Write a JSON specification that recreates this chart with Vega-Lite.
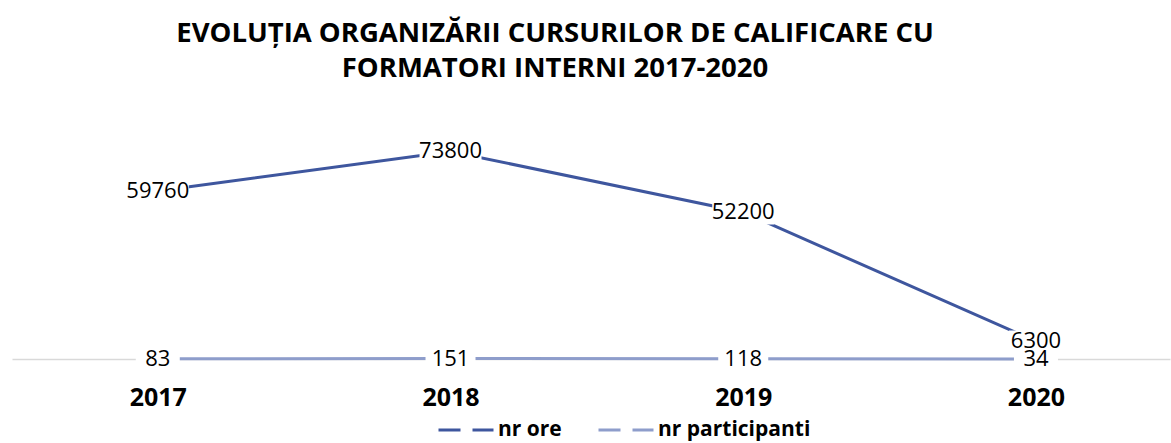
{
  "$schema": "https://vega.github.io/schema/vega-lite/v6.json",
  "autosize": {"type": "none"},
  "padding": {"left": 12, "top": 134, "right": 1, "bottom": 84},
  "width": 1158,
  "height": 225,
  "background": "white",
  "title": {
    "text": ["EVOLUȚIA ORGANIZĂRII CURSURILOR DE CALIFICARE CU", "FORMATORI INTERNI 2017-2020"],
    "font": "Open Sans",
    "fontSize": 27.5,
    "fontWeight": "bold",
    "color": "#000000",
    "anchor": "middle",
    "dx": -36,
    "offset": 52,
    "lineHeight": 35
  },
  "config": {
    "view": {"stroke": null},
    "font": "Open Sans"
  },
  "data": {
    "values": [
      {"year": "2017", "series": "nr ore", "value": 59760},
      {"year": "2018", "series": "nr ore", "value": 73800},
      {"year": "2019", "series": "nr ore", "value": 52200},
      {"year": "2020", "series": "nr ore", "value": 6300},
      {"year": "2017", "series": "nr participanti", "value": 83},
      {"year": "2018", "series": "nr participanti", "value": 151},
      {"year": "2019", "series": "nr participanti", "value": 118},
      {"year": "2020", "series": "nr participanti", "value": 34}
    ]
  },
  "encoding": {
    "x": {
      "field": "year",
      "type": "ordinal",
      "scale": {"type": "point", "padding": 0.478, "align": 0.521},
      "axis": {
        "title": null,
        "ticks": false,
        "domainColor": "#D9D9D9",
        "domainWidth": 1.5,
        "labelFont": "Open Sans",
        "labelFontSize": 25,
        "labelFontWeight": "bold",
        "labelColor": "#000000",
        "labelPadding": 26,
        "labelAngle": 0
      }
    },
    "y": {
      "field": "value",
      "type": "quantitative",
      "scale": {"domain": [0, 80000], "nice": false, "zero": true},
      "axis": null
    }
  },
  "layer": [
    {
      "mark": {"type": "line", "strokeWidth": 3},
      "encoding": {
        "color": {
          "field": "series",
          "type": "nominal",
          "scale": {"domain": ["nr ore", "nr participanti"], "range": ["#3E569E", "#8E9DCB"]},
          "legend": {
            "title": null,
            "orient": "none",
            "direction": "horizontal",
            "legendX": 425,
            "legendY": 267,
            "symbolType": "stroke",
            "symbolSize": 3025,
            "symbolStrokeWidth": 3,
            "symbolDash": [22, 12],
            "labelFont": "Open Sans",
            "labelFontSize": 21,
            "labelFontWeight": "bold",
            "labelColor": "#000000",
            "labelOffset": 3,
            "columnPadding": 30
          }
        }
      }
    },
    {
      "mark": {
        "type": "point",
        "shape": "M-1,-0.4L1,-0.4L1,0.4L-1,0.4Z",
        "filled": true,
        "color": "white",
        "opacity": 1,
        "strokeWidth": 0
      },
      "encoding": {
        "size": {
          "field": "value",
          "type": "quantitative",
          "scale": {"type": "threshold", "domain": [100, 1000, 10000], "range": [1936, 2500, 2916, 3844]},
          "legend": null
        }
      }
    },
    {
      "mark": {"type": "text", "font": "Open Sans", "fontSize": 22, "color": "#000000", "baseline": "middle", "align": "center"},
      "encoding": {
        "text": {"field": "value", "type": "quantitative", "format": "d"}
      }
    }
  ]
}
